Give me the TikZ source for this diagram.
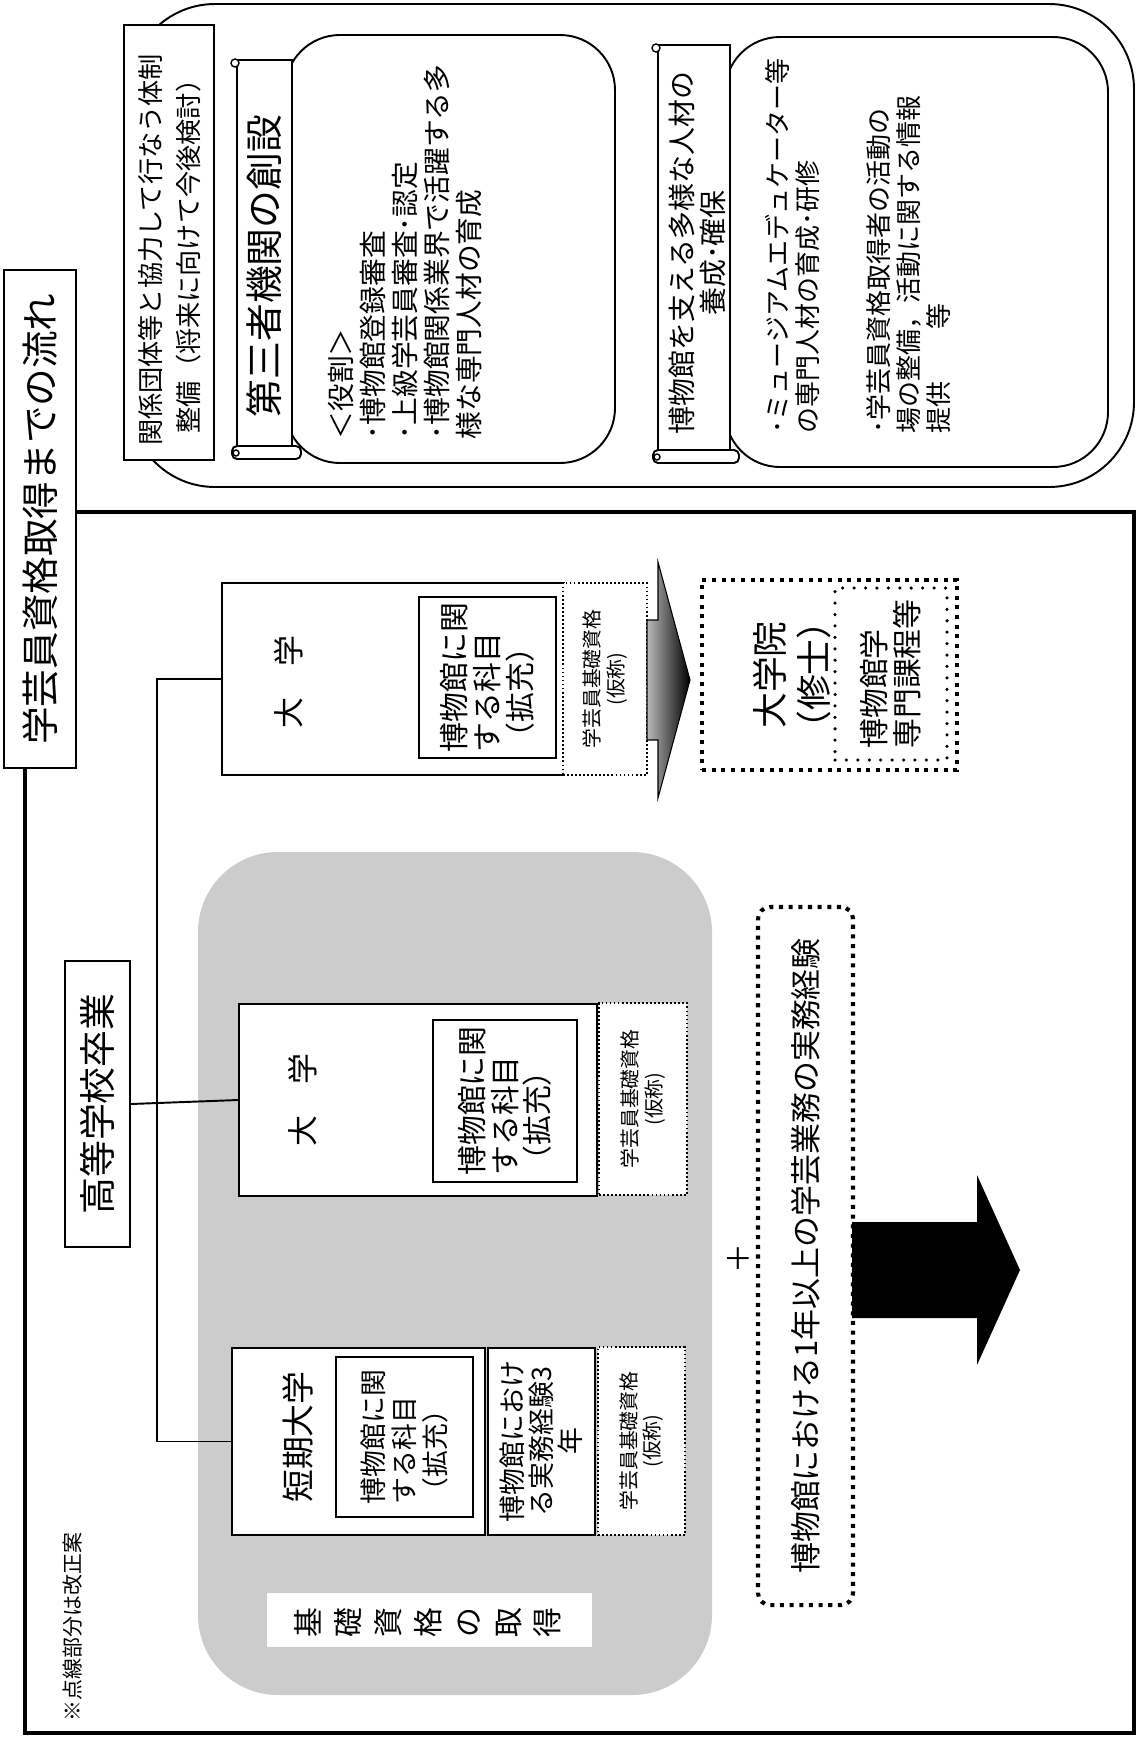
\documentclass[tikz,border=0pt]{standalone}
\usepackage{fontspec}
\setmainfont{Noto Sans CJK JP}
\usetikzlibrary{fit}

\newcommand\fsz[2]{\fontsize{#1}{#2}\selectfont}
\tikzset{
  plainbox/.style={draw,line width=1.1pt,fill=white,inner sep=0pt},
  hintbox/.style={draw,line width=0.9pt,dash pattern=on 1pt off 1.3pt,fill=white,inner sep=0pt},
  bigdots/.style={draw,line width=2.3pt,dash pattern=on 2.3pt off 3.2pt,fill=white,inner sep=0pt},
  rounddots/.style={draw,line width=2pt,line cap=round,dash pattern=on 0pt off 6.5pt,inner sep=0pt},
  vtext/.style={rotate=90,inner sep=0pt,align=center}
}

\begin{document}
\begin{tikzpicture}[x=0.02cm,y=-0.02cm]
    \useasboundingbox (0,0) rectangle (1139,1738);

    % upper part
    \draw[line width=1.1pt,rounded corners=1.7cm] (130,4) rectangle (1134,487);
    \node[plainbox,fit={(124,25) (214,460)}] (coop) {};
    \node[vtext,font=\fsz{14.9pt}{21.5pt}] (cooptxt) at (170,250)
      {関係団体等と協力して行なう体制\\整備（将来に向けて今後検討）};
    \node[plainbox,rounded corners=1.1cm,fit={(285,35) (615,463)}] (third) {};
    \node[plainbox,rounded corners=1.1cm,fit={(725,37) (1108,467)}] (staff) {};
    \foreach \xa/\ya/\xb/\yb in {237/60/292/458, 658/45/730/462} {
      \draw[plainbox] (\xa,\ya) rectangle (\xb,\yb-8);
      \draw[plainbox,rounded corners=0.1cm] (\xa-5,\yb-12) rectangle (\xb+9,\yb+1);
      \draw[line width=0.8pt,fill=white] (\xa-2,\ya+3) circle (0.08cm);
      \draw[line width=0.8pt] (\xa-1,\yb-5) circle (0.06cm);
    }
    \node[vtext,font=\fsz{21.5pt}{21.5pt}] (thirdttl) at (264,266) {第三者機関の創設};
    \node[vtext,align=left,font=\fsz{15.8pt}{18.1pt}] (role) at (405,252)
      {＜役割＞\\･博物館登録審査\\･上級学芸員審査･認定\\･博物館関係業界で活躍する多\\様な専門人材の育成};
    \node[vtext,font=\fsz{15.9pt}{17.6pt}] (staffttl) at (697,253)
      {博物館を支える多様な人材の\\養成･確保};
    \node[vtext,align=left,font=\fsz{14.8pt}{17pt}] (stafftxt) at (858,246)
      {･ミュージアムエデュケーター等\\の専門人材の育成･研修\\[23.8pt]･学芸員資格取得者の活動の\\場の整備，活動に関する情報\\提供　　等};

    % lower part
    \draw[line width=2.8pt] (25,512) rectangle (1134,1733);
    \node[plainbox,fit={(4,270) (76,768)}] (title) {};
    \node[vtext,font=\fsz{21.4pt}{21.4pt}] (titletxt) at (title.center) {学芸員資格取得までの流れ};

    \fill[black!20,rounded corners=1.6cm] (198,852) rectangle (712,1695);
    \fill[white] (267,1593) rectangle (592,1647);
    \node[vtext,font=\fsz{17pt}{22.7pt}] (basic) at (428,1623) {基\\礎\\資\\格\\の\\取\\得};
    \node[vtext,font=\fsz{11.9pt}{11.9pt}] (note) at (73,1627) {※点線部分は改正案};

    \node[plainbox,fit={(65,961) (130,1247)}] (hs) {};
    \node[vtext,font=\fsz{21pt}{21pt}] (hstxt) at (hs.center) {高等学校卒業};
    \node[inner sep=0pt,fill=white,fit={(222,583) (565,775)}] (univA) {};
    \draw[line width=1.1pt] (univA.north east) -- (univA.north west)
      -- (univA.south west) -- (univA.south east);
    \node[plainbox,fit={(239,1004) (597,1196)}] (univB) {};
    \node[plainbox,fit={(232,1348) (485,1535)}] (junior) {};
    \node[plainbox,fit={(488,1348) (595,1535)}] (practice) {};

    \coordinate (trunk) at (157,0);
    \draw[line width=1.1pt] (hs.east) -- (univB.west);
    \draw[line width=1.1pt] (univA.west) -- (univA.west -| trunk)
      -- (junior.west -| trunk) -- (junior.west);

    \node[vtext,font=\fsz{17.6pt}{17.6pt}] (univAtxt) at (289,682) {大　学};
    \node[vtext,font=\fsz{17.6pt}{17.6pt}] (univBtxt) at (303,1100) {大　学};
    \node[vtext,font=\fsz{18.7pt}{18.7pt}] (juniortxt) at (298,1437) {短期大学};
    \node[plainbox,fit={(419,597) (556,758)}] (subjA) {};
    \node[plainbox,fit={(433,1020) (577,1182)}] (subjB) {};
    \node[plainbox,fit={(336,1357) (473,1517)}] (subjC) {};
    \foreach \n in {A,B}
      \node[vtext,align=left,font=\fsz{17pt}{18.7pt}] (subj\n txt) at (subj\n.center)
        {博物館に関\\する科目\\（拡充）};
    \node[vtext,align=left,font=\fsz{15.3pt}{17.6pt}] (subjCtxt) at (subjC.center)
      {博物館に関\\する科目\\（拡充）};
    \node[vtext,font=\fsz{15.3pt}{16.4pt}] (practicetxt) at (practice.center)
      {博物館におけ\\る実務経験3\\年};

    \foreach \n/\xa/\ya/\xb/\yb in {A/563/583/647/775, B/599/1003/687/1195, C/598/1347/685/1535}
      \node[hintbox,fit={(\xa,\ya) (\xb,\yb)}] (qual\n) {}
        node[vtext,font=\fsz{11.3pt}{13.6pt}] (qual\n txt) at (qual\n.center) {学芸員基礎資格\\(仮称)};

    \shade[draw=black,line width=0.6pt,left color=gray!55,right color=black]
      (647,620) -- (658,620) -- (658,562) -- (690,680) -- (658,798) -- (658,740) -- (647,740) -- cycle;

    \node[bigdots,fit={(702,580) (957,770)}] (grad) {};
    \node[rounddots,fit={(835,588) (947,760)}] (course) {};
    \node[vtext,font=\fsz{20.4pt}{25.5pt}] (gradtxt) at (792,675) {大学院\\（修士）};
    \node[vtext,align=left,font=\fsz{17pt}{18.7pt}] (coursetxt) at (891,674) {博物館学\\専門課程等};

    \node[vtext,font=\fsz{17pt}{17pt}] (plus) at (738,1259) {＋};
    \node[bigdots,rounded corners=0.24cm,fit={(758,907) (853,1605)}] (work) {};
    \node[vtext,font=\fsz{17.6pt}{17.6pt}] (worktxt) at (work.center)
      {博物館における1年以上の学芸業務の実務経験};
    \fill (852,1222) -- (977,1222) -- (977,1175) -- (1020,1270) -- (977,1365) -- (977,1318) -- (852,1318) -- cycle;
\end{tikzpicture}
\end{document}
